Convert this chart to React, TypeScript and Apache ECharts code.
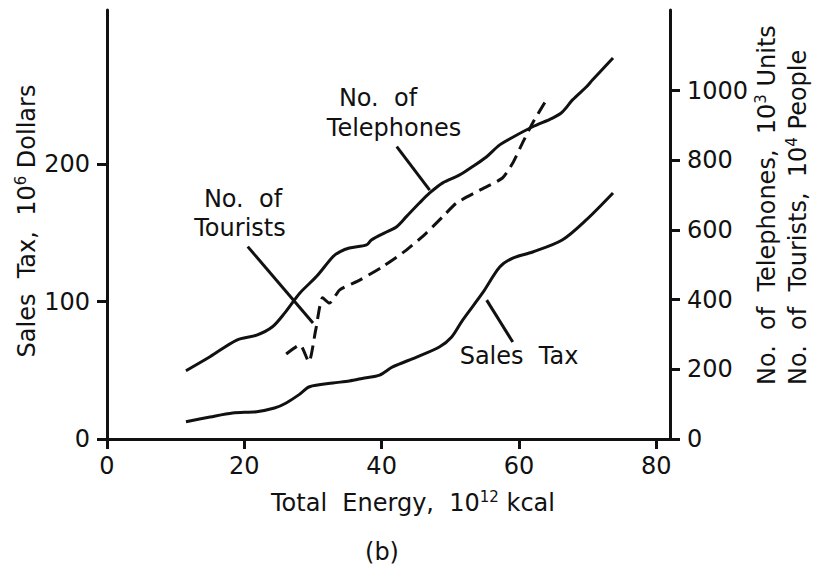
import React, { useEffect, useRef } from "react";
import * as echarts from "echarts";

// Total energy (10^12 kcal) vs. number of telephones (10^3 units), right axis
const telEnergy = [11.5, 15, 18.9, 21.8, 24.1, 25.9, 28.1, 30.5, 32.9, 33.9, 35.3, 37.8, 38.5, 40.7, 42.2, 43.6, 45.5, 47.0, 48.9, 51.3, 53.2, 55.3, 57.2, 59.1, 62.0, 64.9, 66.3, 67.8, 69.8, 70.7, 73.7];
const telephones = [196, 236, 284, 298, 322, 362, 419, 466, 523, 537, 548, 557, 571, 594, 609, 638, 677, 706, 735, 757, 781, 810, 844, 866, 896, 921, 938, 973, 1010, 1030, 1093];

// Total energy vs. number of tourists (10^4 people), right axis
const tourEnergy = [26.1, 28.1, 29.4, 30.4, 31.4, 32.4, 33.9, 36.8, 40.1, 43.6, 46.5, 48.9, 50.9, 54.3, 57.6, 59.1, 60.5, 62.0, 64.0];
const tourists = [244, 270, 221, 313, 405, 390, 428, 456, 494, 542, 591, 638, 677, 714, 749, 792, 849, 907, 973];

// Total energy vs. sales tax (10^6 dollars), left axis
const taxEnergy = [11.5, 15, 18.3, 21.8, 24.4, 26.1, 28.1, 29.5, 32.9, 35.3, 37.5, 39.7, 41.6, 45.1, 48.4, 50.2, 51.8, 54.7, 57.2, 59.1, 62.0, 66.3, 69.8, 73.7];
const salesTax = [12.6, 16, 18.9, 19.9, 22.5, 26.2, 32.7, 38.0, 40.7, 42.2, 44.4, 46.5, 52.4, 59.6, 66.9, 74.2, 86.5, 106.2, 125.1, 131.6, 136, 144.7, 159.3, 178.9];

// Tick labels
const xTicks = [0, 20, 40, 60, 80];
const leftTicks = [0, 100, 200];
const rightTicks = [0, 200, 400, 600, 800, 1000];

// Leader lines (data coordinates): [x1, y1, x2, y2]
const tourLeader = [20.5, 552, 30.0, 333];
const telLeader = [42.2, 839, 47.0, 714];
const taxLeader = [55.3, 101, 59.1, 70.5];

const FONT = "DejaVu Sans";
const INK = "#111";

const zip = (xs: number[], ys: number[]) => xs.map((x, i) => [x, ys[i]]);

const leader = (l: number[]) => ({
  silent: true,
  symbol: ["none", "none"],
  label: { show: false },
  lineStyle: { type: "solid", width: 3, color: INK },
  data: [[{ coord: [l[0], l[1]] }, { coord: [l[2], l[3]] }]],
});

const richBase = {
  n: { fontSize: 24, fontFamily: FONT, color: INK, lineHeight: 28 },
  s: { fontSize: 15, fontFamily: FONT, color: INK, lineHeight: 28, verticalAlign: "top" },
};

const txt = (text: string, x: number, y: number, extra: any = {}) => ({
  type: "text",
  x,
  y,
  ...extra,
  style: {
    text,
    fontSize: 24,
    fontFamily: FONT,
    fill: INK,
    align: extra.align || "center",
    verticalAlign: "middle",
    rich: richBase,
  },
});

const plain = (v: number) => String(v);

export default function App() {
  const ref = useRef<HTMLDivElement>(null);
  useEffect(() => {
    if (!ref.current) return;
    const chart = echarts.init(ref.current, null, { renderer: "svg" });
    const axisCommon = {
      axisLine: { show: true, onZero: false, lineStyle: { color: INK, width: 3 } },
      splitLine: { show: false },
    };
    chart.setOption({
      animation: false,
      backgroundColor: "#fff",
      grid: { left: 107, right: 144, top: 10, bottom: 133 },
      xAxis: {
        type: "value",
        min: 0,
        max: 82,
        ...axisCommon,
        axisTick: { show: true, length: 10, customValues: xTicks, lineStyle: { color: INK, width: 3 } },
        axisLabel: { customValues: xTicks, formatter: plain, fontSize: 24, fontFamily: FONT, color: INK, margin: 15 },
      },
      yAxis: [
        {
          type: "value",
          position: "left",
          min: 0,
          max: 312,
          ...axisCommon,
          axisTick: { show: true, length: 10, customValues: leftTicks, lineStyle: { color: INK, width: 3 } },
          axisLabel: { customValues: leftTicks, formatter: plain, fontSize: 24, fontFamily: FONT, color: INK, margin: 17 },
        },
        {
          type: "value",
          position: "right",
          min: 0,
          max: 1231,
          ...axisCommon,
          axisTick: { show: true, length: 10, customValues: rightTicks, lineStyle: { color: INK, width: 3 } },
          axisLabel: { customValues: rightTicks, formatter: plain, fontSize: 24, fontFamily: FONT, color: INK, margin: 17 },
        },
      ],
      series: [
        {
          name: "No. of Telephones",
          type: "line",
          yAxisIndex: 1,
          data: zip(telEnergy, telephones),
          smooth: 0.3,
          symbol: "none",
          lineStyle: { color: INK, width: 3 },
          markLine: leader(telLeader),
        },
        {
          name: "No. of Tourists",
          type: "line",
          yAxisIndex: 1,
          data: zip(tourEnergy, tourists),
          smooth: 0.2,
          symbol: "none",
          lineStyle: { color: INK, width: 3, type: [13, 7] },
          markLine: leader(tourLeader),
        },
        {
          name: "Sales Tax",
          type: "line",
          yAxisIndex: 0,
          data: zip(taxEnergy, salesTax),
          smooth: 0.3,
          symbol: "none",
          lineStyle: { color: INK, width: 3 },
          markLine: leader(taxLeader),
        },
      ],
      graphic: [
        txt("No.  of", 378, 98),
        txt("Telephones", 394, 128),
        txt("No.  of", 243, 199),
        txt("Tourists", 240, 228),
        txt("Sales  Tax", 519, 356),
        txt("{n|Total  Energy,  10}{s|12}{n| kcal}", 413, 503),
        txt("(b)", 382, 552),
        txt("{n|Sales  Tax,  10}{s|6}{n| Dollars}", 27, 221, { rotation: Math.PI / 2 }),
        txt("{n|No.  of  Telephones,  10}{s|3}{n| Units}", 767, 385, { rotation: Math.PI / 2, align: "left" }),
        txt("{n|No.  of  Tourists,  10}{s|4}{n| People}", 798, 385, { rotation: Math.PI / 2, align: "left" }),
      ],
    });
    return () => chart.dispose();
  }, []);
  return (
    <div
      ref={ref}
      style={{ position: "fixed", left: 0, top: 0, width: 814, height: 572, background: "#fff" }}
    />
  );
}
